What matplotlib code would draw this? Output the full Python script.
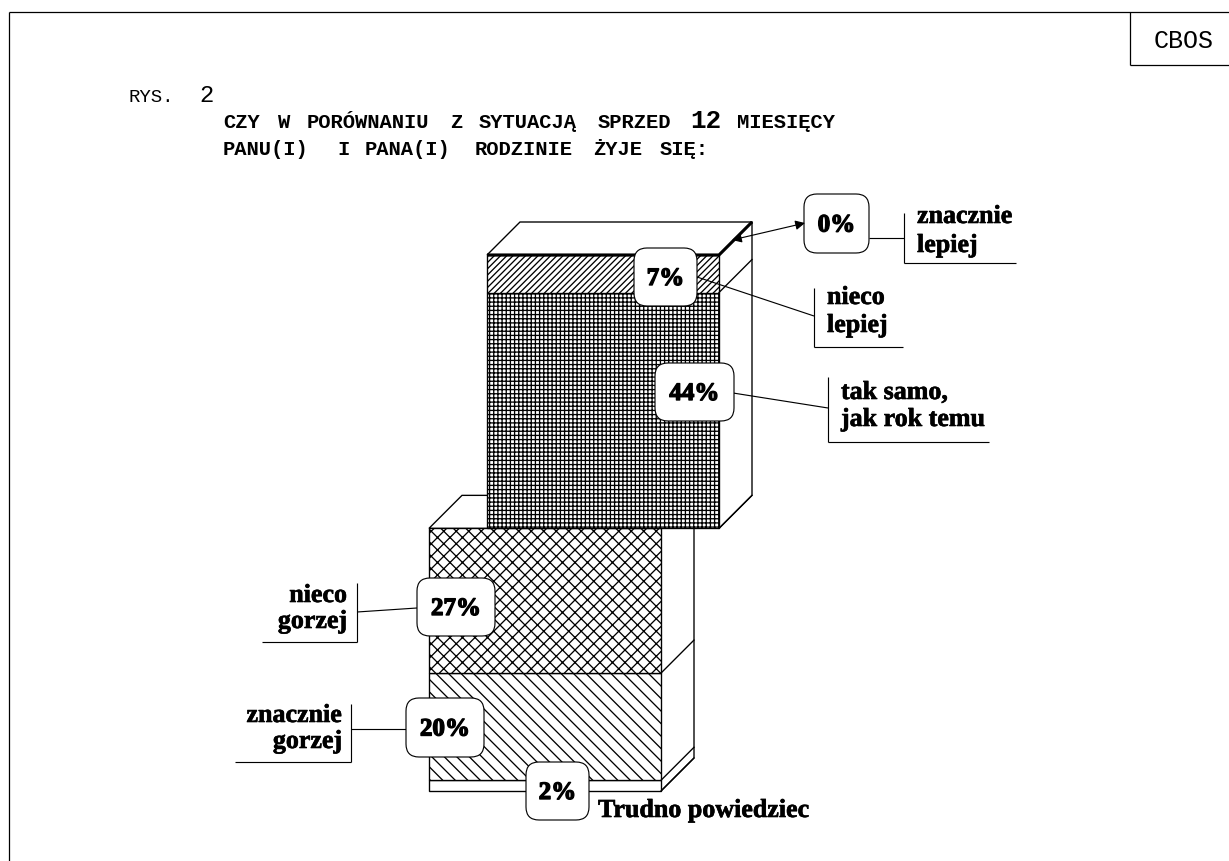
import matplotlib
matplotlib.use("Agg")
import matplotlib.pyplot as plt
from matplotlib.patches import FancyBboxPatch
import matplotlib.patheffects as pe

# ---- data ----
lower_labels = ["Trudno powiedziec", "znacznie gorzej", "nieco gorzej"]
lower_values = [2, 20, 27]
upper_labels = ["tak samo, jak rok temu", "nieco lepiej", "znacznie lepiej"]
upper_values = [44, 7, 0]
lower_hatches = [None, "\\\\", "xx"]
upper_hatches = ["+++", "////", None]

W, H, DPI = 1229, 861, 75
plt.rcParams["hatch.linewidth"] = 1.25
fig = plt.figure(figsize=(W / DPI, H / DPI), dpi=DPI)
PX_PER_PCT = 5.36
BASE = 791
DEPTH_X = 33
DEPTH_Y = 33 / PX_PER_PCT

ax = fig.add_axes([0, 0, 1, 1])
ax.set_xlim(0, W)
ax.set_ylim((BASE - H) / PX_PER_PCT, BASE / PX_PER_PCT)
ax.axis("off")

ov = fig.add_axes([0, 0, 1, 1], zorder=5)
ov.set_xlim(0, W)
ov.set_ylim(H, 0)
ov.axis("off")
ov.patch.set_alpha(0)

LW = 1.3


def stack(x0, width, start, values, hatches, z):
    bottom = start
    total = start + sum(values)
    xr = x0 + width
    # top face
    ax.fill([x0, x0 + DEPTH_X, xr + DEPTH_X, xr],
            [total, total + DEPTH_Y, total + DEPTH_Y, total],
            facecolor="white", edgecolor="black", lw=LW, zorder=z)
    # side face
    ax.fill([xr, xr + DEPTH_X, xr + DEPTH_X, xr],
            [start, start + DEPTH_Y, total + DEPTH_Y, total],
            facecolor="white", edgecolor="black", lw=LW, zorder=z)
    for v, h in zip(values, hatches):
        if v > 0:
            ax.bar(x0, v, width=width, bottom=bottom, align="edge",
                   facecolor="white", edgecolor="black", hatch=h, lw=LW, zorder=z + 0.1)
        ax.plot([xr, xr + DEPTH_X], [bottom, bottom + DEPTH_Y], color="black", lw=LW, zorder=z + 0.2)
        bottom += v
    return total


low_top = stack(429, 232, 0, lower_values, lower_hatches, 2)
up_top = stack(487, 232, low_top, upper_values, upper_hatches, 3)
# the 0 % slab on top of the upper block
ax.plot([487, 719, 719 + DEPTH_X], [up_top, up_top, up_top + DEPTH_Y],
        color="black", lw=3, zorder=4, solid_capstyle="butt")

# ---- frame ----
for xs, ys in [([9, 9], [861, 12]), ([9, 1229], [12, 12]),
               ([1130, 1130], [12, 65]), ([1130, 1229], [65, 65])]:
    ov.plot(xs, ys, color="black", lw=1.2, solid_capstyle="butt")

MONO = "Liberation Mono"
SERIF = "Liberation Serif"


def t(x, y, s, px, family=MONO, weight="normal", ha="left", heavy=0.0, **kw):
    tx = ov.text(x, y, s, fontsize=px * 72 / DPI, family=family, weight=weight,
                 ha=ha, va="baseline", color="black", zorder=8, **kw)
    if heavy:
        tx.set_path_effects([pe.withStroke(linewidth=heavy, foreground="black")])
    return tx


t(1154, 48, "CBOS", 25)
t(128, 102, "RYS.", 19)
t(199, 102, "2", 24)

title_line1 = [(223, "CZY"), (278, "W"), (307, "PORÓWNANIU"), (450, "Z"), (479, "SYTUACJĄ"),
               (598, "SPRZED"), (737, "MIESIĘCY")]
title_line2 = [(223, "PANU(I)"), (337, "I"), (365, "PANA(I)"), (475, "RODZINIE"),
               (593, "ŻYJE"), (660, "SIĘ:")]
for x, w in title_line1:
    t(x, 128, w, 20.5, weight="bold")
t(690, 128, "12", 26, weight="bold")
for x, w in title_line2:
    t(x, 155, w, 20.5, weight="bold")

# ---- value boxes ----
boxes = [(804, 194, 869, 253, "0%"), (634, 248, 697, 306, "7%"), (655, 363, 734, 421, "44%"),
         (417, 578, 495, 636, "27%"), (406, 698, 484, 757, "20%"), (526, 762, 589, 820, "2%")]
for x0, y0, x1, y1, s in boxes:
    ov.add_patch(FancyBboxPatch((x0 + 12, y0 + 12), x1 - x0 - 24, y1 - y0 - 24,
                                boxstyle="round,pad=12,rounding_size=13",
                                facecolor="white", edgecolor="black", lw=1.1, zorder=6))
    t((x0 + x1) / 2, (y0 + y1) / 2 + 8, s, 25, family=SERIF, weight="bold", ha="center", heavy=1.3)

# ---- leaders and brackets ----
lines = [
    ([869, 904], [238, 238]), ([904, 904], [213, 263]), ([904, 1016], [263, 263]),
    ([697, 814], [277, 316]), ([814, 814], [288, 347]), ([814, 903], [347, 347]),
    ([733, 828], [393, 408]), ([828, 828], [377, 442]), ([828, 989], [442, 442]),
    ([417, 357], [608, 612]), ([357, 357], [583, 642]), ([262, 357], [642, 642]),
    ([406, 351], [729, 729]), ([351, 351], [704, 762]), ([235, 351], [762, 762]),
]
for xs, ys in lines:
    ov.plot(xs, ys, color="black", lw=1.1, zorder=5, solid_capstyle="butt")
ov.annotate("", xy=(805, 223), xytext=(732, 240), zorder=7,
            arrowprops=dict(arrowstyle="<|-|>", color="black", lw=1.1, mutation_scale=19,
                            shrinkA=0, shrinkB=0))

# ---- category labels ----
H1 = 0.6
t(917, 223, "znacznie", 26, family=SERIF, weight="bold", heavy=H1)
t(917, 252, "lepiej", 26, family=SERIF, weight="bold", heavy=H1)
t(827, 304, "nieco", 26, family=SERIF, weight="bold", heavy=H1)
t(827, 332, "lepiej", 26, family=SERIF, weight="bold", heavy=H1)
t(841, 399, "tak samo,", 26, family=SERIF, weight="bold", heavy=H1)
t(841, 426, "jak rok temu", 26, family=SERIF, weight="bold", heavy=H1)
t(347, 602, "nieco", 26, family=SERIF, weight="bold", ha="right", heavy=H1)
t(347, 628, "gorzej", 26, family=SERIF, weight="bold", ha="right", heavy=H1)
t(342, 722, "znacznie", 26, family=SERIF, weight="bold", ha="right", heavy=H1)
t(342, 748, "gorzej", 26, family=SERIF, weight="bold", ha="right", heavy=H1)
t(598, 817, "Trudno powiedziec", 26, family=SERIF, weight="bold", heavy=H1)

fig.savefig("out.png", dpi=DPI, facecolor="white")
